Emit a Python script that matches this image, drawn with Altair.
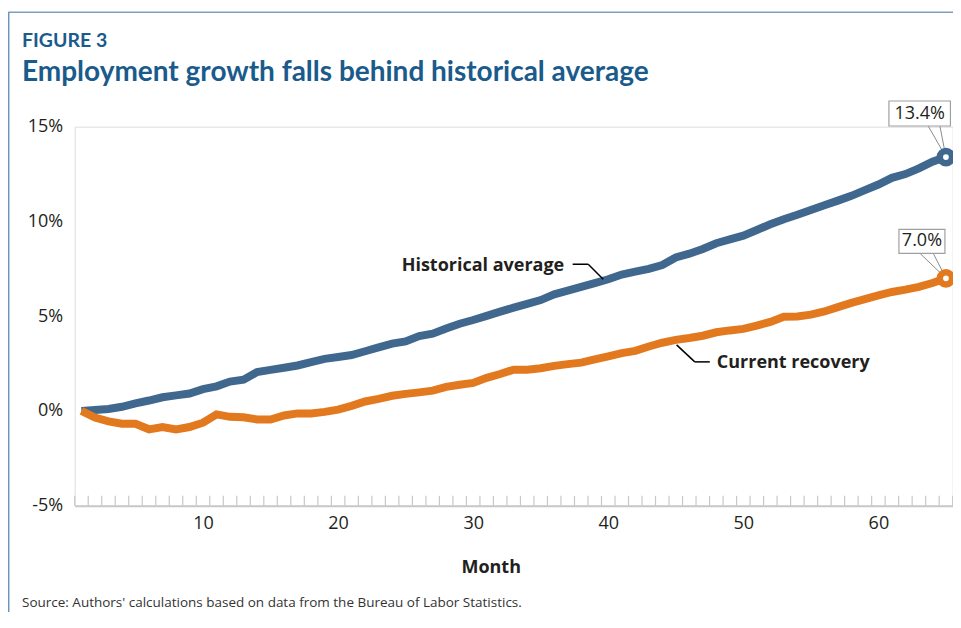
import altair as alt
import pandas as pd

# ---------------- data ----------------
months = list(range(1, 66))
historical = [0.0, 0.05, 0.1, 0.22, 0.4, 0.55, 0.72, 0.82, 0.92, 1.15,
              1.3, 1.55, 1.65, 2.05, 2.17, 2.28, 2.4, 2.58, 2.75, 2.85,
              2.95, 3.15, 3.35, 3.55, 3.67, 3.95, 4.08, 4.35, 4.6, 4.8,
              5.02, 5.24, 5.45, 5.65, 5.85, 6.15, 6.35, 6.55, 6.75, 6.95,
              7.2, 7.35, 7.5, 7.7, 8.1, 8.3, 8.55, 8.85, 9.05, 9.25,
              9.55, 9.85, 10.12, 10.35, 10.6, 10.85, 11.1, 11.35, 11.65, 11.95,
              12.3, 12.5, 12.8, 13.15, 13.4]
current = [0.0, -0.35, -0.55, -0.67, -0.68, -0.97, -0.85, -0.97, -0.85, -0.62,
           -0.18, -0.31, -0.33, -0.45, -0.45, -0.24, -0.13, -0.13, -0.05, 0.07,
           0.27, 0.5, 0.64, 0.8, 0.9, 0.98, 1.07, 1.27, 1.38, 1.48,
           1.75, 1.95, 2.18, 2.18, 2.25, 2.38, 2.47, 2.55, 2.72, 2.88,
           3.05, 3.17, 3.4, 3.6, 3.75, 3.85, 3.97, 4.15, 4.25, 4.33,
           4.5, 4.7, 4.97, 4.99, 5.08, 5.25, 5.48, 5.7, 5.9, 6.1,
           6.28, 6.4, 6.55, 6.75, 7.0]
series_names = ["Historical average", "Current recovery"]
series_colors = ["#40688f", "#e2791e"]
y_ticks = [-5, 0, 5, 10, 15]
x_labels = [10, 20, 30, 40, 50, 60]
title_text = "FIGURE 3"
subtitle_text = "Employment growth falls behind historical average"
source_text = "Source: Authors' calculations based on data from the Bureau of Labor Statistics."

df = pd.DataFrame({
    "month": months * 2,
    "value": historical + current,
    "series": [series_names[0]] * len(months) + [series_names[1]] * len(months),
})
end_df = pd.DataFrame({
    "month": [months[-1], months[-1]],
    "value": [historical[-1], current[-1]],
    "series": series_names,
    "label": [f"{historical[-1]:.1f}%", f"{current[-1]:.1f}%"],
})
tick_df = pd.DataFrame({"month": [m - 0.5 for m in months] + [months[-1] + 0.5]})

W, H = 878, 379
FONT = "Open Sans"
TFONT = "Lato"
TXT = "#231f20"
x_scale = alt.Scale(domain=[months[0] - 0.5, months[-1] + 0.5], nice=False, zero=False)
y_scale = alt.Scale(domain=[y_ticks[0], y_ticks[-1]], nice=False, zero=False)
col_scale = alt.Scale(domain=series_names, range=series_colors)

X = alt.X("month:Q", scale=x_scale, title="Month",
          axis=alt.Axis(values=x_labels, ticks=False, grid=False,
                        domainColor="#c8c8c8", domainWidth=2,
                        labelFont=FONT, labelFontSize=18, labelColor=TXT,
                        labelPadding=9, labelOverlap=False,
                        titleFont=FONT, titleFontSize=18, titleFontWeight="bold",
                        titleColor=TXT, titleX=416, titleY=62, titleBaseline="middle"))
Y = alt.Y("value:Q", scale=y_scale, title=None,
          axis=alt.Axis(values=y_ticks, labelExpr="datum.value + '%'",
                        domain=False, ticks=False, labelPadding=12,
                        labelFont=FONT, labelFontSize=18, labelColor=TXT,
                        gridColor={"condition": {"test": "datum.value === 0", "value": "#7f7f7f"},
                                   "value": "#d2d2d2"},
                        gridOpacity={"condition": {"test": "datum.value === -5", "value": 0},
                                     "value": 1},
                        gridWidth=1.5))

base = alt.Chart(df)

ticks = alt.Chart(tick_df).mark_rule(color="#c8c8c8", strokeWidth=1.2).encode(
    x=alt.X("month:Q", scale=x_scale, title="Month"),
    y=alt.datum(-5), y2=alt.datum(-4.48))

lines = base.mark_line(strokeWidth=8, strokeJoin="miter").encode(
    x=X, y=Y,
    color=alt.Color("series:N", scale=col_scale, legend=None),
    order="month:Q")

def callout(series, box, text_pos, leaders):
    src = alt.Chart(end_df).transform_filter(alt.datum.series == series)
    enc = dict(x=alt.X("month:Q", scale=x_scale, title="Month"),
               y=alt.Y("value:Q", scale=y_scale, title=None))
    enc2 = dict(x2="month:Q", y2="value:Q")
    layers = []
    for (x0, y0) in leaders:
        layers.append(src.mark_rule(color="#8c8c8c", strokeWidth=1, xOffset=x0, yOffset=y0,
                                    x2Offset=0, y2Offset=0).encode(**enc, **enc2))
    layers.append(src.mark_rect(fill="white", stroke="#a0a0a0", strokeWidth=1.2,
                                xOffset=box[0], x2Offset=box[1], yOffset=box[2], y2Offset=box[3]
                                ).encode(**enc, **enc2))
    layers.append(src.mark_text(font=FONT, fontSize=18, color=TXT, align="center",
                                baseline="middle", dx=text_pos[0], dy=text_pos[1]
                                ).encode(**enc, text="label:N"))
    return layers

call1 = callout(series_names[0], (-57, 4.5, -56, -31), (-26.2, -43.5), [(-17.7, -31), (-6, -31)])
call2 = callout(series_names[1], (-47, -1, -49, -25), (-24, -37), [(-26, -25), (-12.7, -25)])

points = alt.Chart(end_df).mark_point(filled=True, fill="white", size=150, strokeWidth=6.5,
                                      opacity=1).encode(
    x=alt.X("month:Q", scale=x_scale, title="Month"),
    y=alt.Y("value:Q", scale=y_scale, title=None),
    stroke=alt.Stroke("series:N", scale=col_scale, legend=None))

# series name annotations anchored to points on the lines
def anno(series, month, segs, text_dx, text_dy, align):
    src = base.transform_filter((alt.datum.series == series) & (alt.datum.month == month))
    enc = dict(x=alt.X("month:Q", scale=x_scale, title="Month"),
               y=alt.Y("value:Q", scale=y_scale, title=None))
    layers = []
    for (a, b, c, d) in segs:
        layers.append(src.mark_rule(color="#000000", strokeWidth=1.5, xOffset=a, yOffset=b,
                                    x2Offset=c, y2Offset=d).encode(**enc, x2="month:Q", y2="value:Q"))
    layers.append(src.mark_text(font=FONT, fontSize=18, fontWeight="bold", color=TXT,
                                align=align, baseline="middle", dx=text_dx, dy=text_dy
                                ).encode(**enc, text="series:N"))
    return layers

anno1 = anno(series_names[0], 40, [(-35.6, -15, -20, -15), (-20, -15, -5, 0)], -44, -13.7, "right")
anno2 = anno(series_names[1], 45, [(0.8, 5, 19, 22), (19, 22, 34, 22)], 41, 23, "left")

one = pd.DataFrame({"t": [source_text]})
source = alt.Chart(one).mark_text(font=FONT, fontSize=13.5, color="#333333", align="left",
                                  baseline="middle").encode(
    text="t:N", x=alt.value(-52.7), y=alt.value(476))
border_top = alt.Chart(one).mark_rule(color="#7f9fc0", strokeWidth=1.5).encode(
    x=alt.value(-66.5), x2=alt.value(900), y=alt.value(-114.5))
border_left = alt.Chart(one).mark_rule(color="#6f93b8", strokeWidth=1.5).encode(
    x=alt.value(-66), y=alt.value(-114.5), y2=alt.value(520))

chart = alt.layer(
    ticks, lines, *anno1, *anno2, *call1, *call2, points, source, border_top, border_left
).properties(
    width=W, height=H,
    title=alt.TitleParams(text=title_text, subtitle=subtitle_text, anchor="start",
                          frame="group", dx=-52.7, offset=0, dy=77,
                          font=TFONT, fontSize=19.5, fontWeight="bold", color="#1a5b8c",
                          subtitleFont=TFONT, subtitleFontSize=28, subtitleFontWeight="bold",
                          subtitleColor="#1a5b8c", subtitlePadding=8),
    autosize=alt.AutoSizeParams(type="none"),
    padding={"left": 66.7, "top": 118.7, "right": 0, "bottom": 106},
).configure_view(stroke=None).configure(background="white")

chart.save("out.html", embed_options={"renderer": "svg", "actions": False})
